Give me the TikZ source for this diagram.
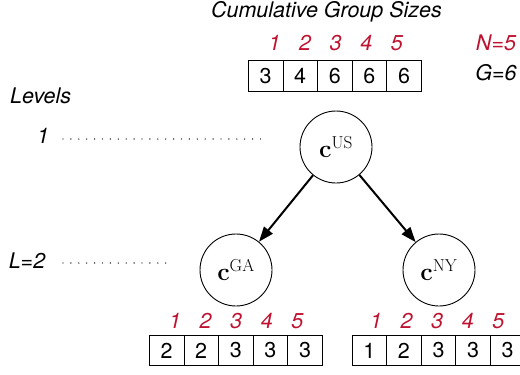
\documentclass[tikz,border=0pt]{standalone}
\usepackage[no-math]{fontspec}
\setmainfont{TeX Gyre Heros}
\usetikzlibrary{arrows.meta}
\definecolor{idxred}{RGB}{190,18,48}
\begin{document}
\begin{tikzpicture}[x=1pt,y=-1pt,
  every node/.style={font=\fontsize{21.5}{25}\selectfont},
  cell/.style={draw,line width=0.8pt,minimum width=34.6pt,minimum height=30.5pt,inner sep=0pt},
  idx/.style={text=idxred,font=\fontsize{21.5}{25}\selectfont\itshape,anchor=base,inner sep=0pt},
  lbl/.style={font=\fontsize{21.5}{25}\selectfont\itshape,anchor=base,inner sep=0pt},
  grp/.style={draw,circle,line width=0.9pt,minimum size=72pt,inner sep=0pt,font=\fontsize{24}{28}\selectfont},
  levdots/.style={line width=1.4pt,line cap=round,dash pattern=on 0pt off 7.9pt},
  tree/.style={line width=2pt,-{Triangle[length=15pt,width=11pt]}}]
\useasboundingbox (0,0) rectangle (520,375);

% title
\node[lbl] (title) at (326.5,17) {Cumulative Group Sizes};

% top array
\foreach \v [count=\i from 0] in {3,4,6,6,6} {
  \node[cell] (t\i) at (265.6+34.6*\i,76) {\v};
}
\foreach \n [count=\i from 0] in {1,2,3,4,5} {
  \node[idx] (ti\i) at (274.5+30.6*\i,50) {\n};
}
\node[lbl,text=idxred] (N) at (496,50) {N=5};
\node[lbl] (G) at (496,80) {G=6};

% levels
\node[lbl,anchor=base west] (levels) at (10,103) {Levels};
\node[lbl] (l1) at (43,143) {1};
\node[lbl] (l2) at (27,268) {L=2};
\coordinate (d1a) at (63,139);
\coordinate (d1b) at (264,139);
\coordinate (d2a) at (63,263);
\coordinate (d2b) at (173,263);
\draw[levdots] (d1a) -- (d1b);
\draw[levdots] (d2a) -- (d2b);

% tree
\node[grp] (US) at (336,147) {$\mathbf{c}^{\mathrm{US}}$};
\node[grp] (GA) at (236,270) {$\mathbf{c}^{\mathrm{GA}}$};
\node[grp] (NY) at (439,270) {$\mathbf{c}^{\mathrm{NY}}$};
\draw[tree] (US) -- (GA);
\draw[tree] (US) -- (NY);

% bottom arrays
\foreach \v [count=\i from 0] in {2,2,3,3,3} {
  \node[cell] (a\i) at (166.6+34.6*\i,350.5) {\v};
}
\foreach \n [count=\i from 0] in {1,2,3,4,5} {
  \node[idx] (ai\i) at (175+30.6*\i,328) {\n};
}
\foreach \v [count=\i from 0] in {1,2,3,3,3} {
  \node[cell] (b\i) at (369.3+34.6*\i,350.5) {\v};
}
\foreach \n [count=\i from 0] in {1,2,3,4,5} {
  \node[idx] (bi\i) at (376+30.6*\i,328) {\n};
}
\end{tikzpicture}
\end{document}
